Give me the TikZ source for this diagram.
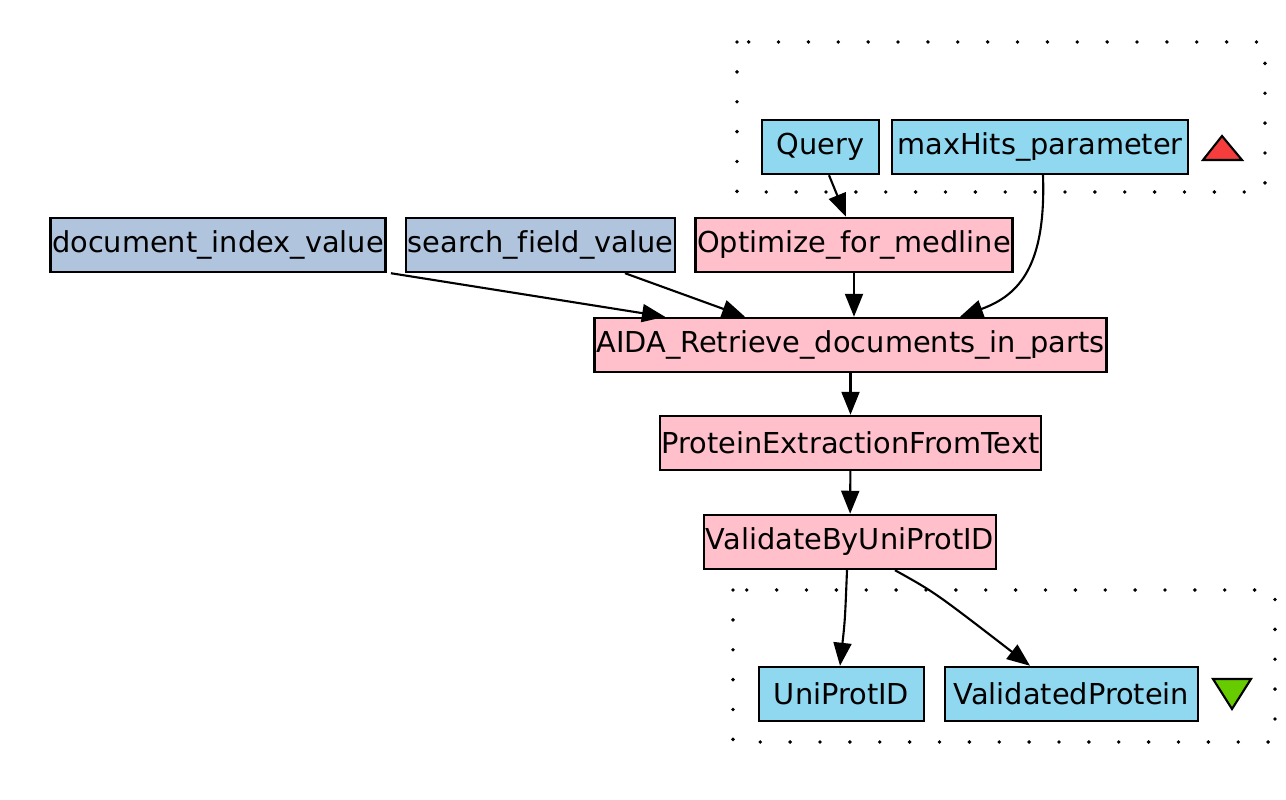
\documentclass[tikz,border=0pt]{standalone}
\usepackage{fontspec}
\setmainfont[Ligatures=NoCommon]{DejaVu Sans}
\usepackage{tikz}
\usepackage{xcolor}
\usetikzlibrary{arrows.meta}
\definecolor{SteelNC}{HTML}{B0C4DE}
\definecolor{PinkNC}{HTML}{FFC0CB}
\definecolor{SkyNC}{HTML}{90D8F0}
\definecolor{RedNC}{HTML}{F53D3D}
\definecolor{GreenNC}{HTML}{66CC00}
\newcommand\nodedoc{document\_index\_value}
\newcommand\nodesearch{search\_field\_value}
\newcommand\nodeopt{Optimize\_for\_medline}
\newcommand\nodequery{Query}
\newcommand\nodemax{maxHits\_parameter}
\newcommand\nodeaida{AIDA\_Retrieve\_documents\_in\_parts}
\newcommand\nodeprot{ProteinExtractionFromText}
\newcommand\nodeval{ValidateByUniProtID}
\newcommand\nodeuni{UniProtID}
\newcommand\nodevp{ValidatedProtein}
\tikzstyle{mynodestyle} = [rectangle, draw=black, line width=1.4pt, minimum height=1.08cm, inner xsep=1pt, inner ysep=0pt, font=\fontsize{16.4}{20}\selectfont]
\tikzstyle{sn} = [mynodestyle, fill=SteelNC]
\tikzstyle{pn} = [mynodestyle, fill=PinkNC]
\tikzstyle{bn} = [mynodestyle, fill=SkyNC]
\tikzstyle{cluster} = [line width=2.2pt, line cap=round, dash pattern=on 0pt off 17pt]
\tikzset{>={Triangle[length=0.46cm,width=0.36cm]}, every picture/.style={line width=1.2pt}}

\begin{document}
\begin{tikzpicture}
\useasboundingbox (0,0) rectangle (25.72,16);
% workflow inputs and outputs
\draw[cluster] (14.74,15.16) rectangle (25.30,12.16);
\draw[cluster] (14.66,4.20) rectangle (25.50,1.16);
\node[sn] (doc) at (4.36, 11.10) {\nodedoc};
\node[sn] (search) at (10.81, 11.10) {\nodesearch};
\node[pn] (opt) at (17.08, 11.10) {\nodeopt};
\node[bn, minimum width=2.34cm] (query) at (16.41, 13.06) {\nodequery};
\node[bn, minimum width=5.92cm] (max) at (20.80, 13.06) {\nodemax};
\node[pn] (aida) at (17.01, 9.10) {\nodeaida};
\node[pn] (prot) at (17.01, 7.14) {\nodeprot};
\node[pn] (val) at (17.00, 5.16) {\nodeval};
\node[bn, minimum width=3.30cm] (uni) at (16.83, 2.12) {\nodeuni};
\node[bn, minimum width=5.06cm] (vp) at (21.43, 2.12) {\nodevp};
\filldraw[fill=RedNC] (24.06,12.80) -- (24.84,12.80) -- (24.44,13.28) -- cycle;
\filldraw[fill=GreenNC] (24.26,2.42) -- (25.02,2.42) -- (24.64,1.82) -- cycle;
\draw [->] ([xshift=0.17cm]query.south) -- ([xshift=-0.16cm]opt.north);
\draw [->] ([xshift=0.06cm]max.south) .. controls (20.92,10.7) and (20.4,10.1) .. ([xshift=2.19cm]aida.north);
\draw [->] (opt.south) -- (opt.south |- aida.north);
\draw [->] ([xshift=0.08cm]doc.south east) -- ([xshift=-3.71cm]aida.north);
\draw [->] ([xshift=1.69cm]search.south) -- ([xshift=-2.11cm]aida.north);
\draw [->] (aida) -- (prot);
\draw [->] (prot) -- (val);
\draw [->] ([xshift=-0.06cm]val.south) .. controls (16.9,3.6) .. ([xshift=-0.03cm]uni.north);
\draw [->] ([xshift=0.9cm]val.south) .. controls (18.7,4.15) .. ([xshift=-0.83cm]vp.north);
\end{tikzpicture}
\end{document}
